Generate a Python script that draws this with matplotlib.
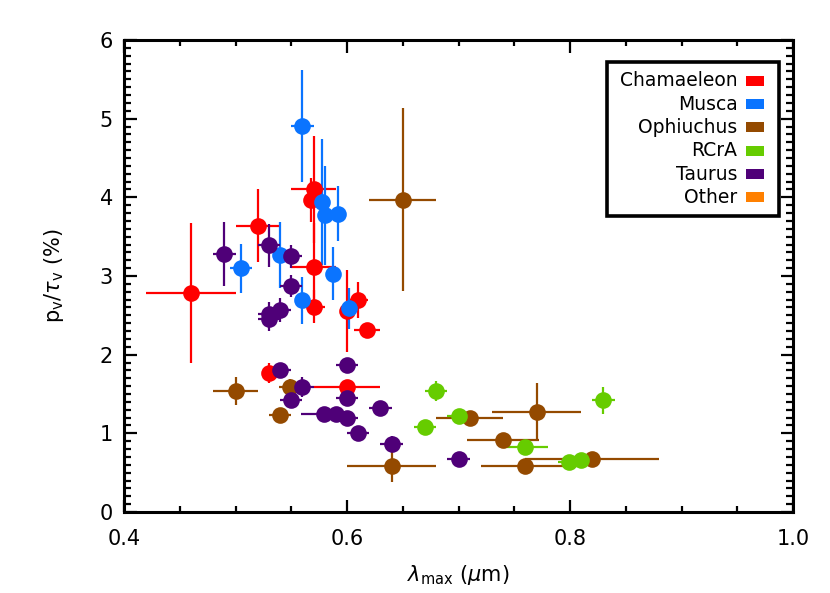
import matplotlib
matplotlib.use("Agg")
import matplotlib.pyplot as plt
from matplotlib.patches import Rectangle
from matplotlib.ticker import MultipleLocator

# ---------------- data ----------------
regions = ["Chamaeleon", "Musca", "Ophiuchus", "RCrA", "Taurus", "Other"]
colors = ["#FF0000", "#0A74FF", "#944A00", "#66CC00", "#4F0078", "#FF8000"]

cha_x    = [0.460, 0.520, 0.570, 0.568, 0.570, 0.570, 0.600, 0.610, 0.618, 0.530, 0.600]
cha_y    = [2.78, 3.64, 4.10, 3.97, 3.12, 2.61, 2.55, 2.69, 2.31, 1.77, 1.59]
cha_xerr = [0.040, 0.020, 0.020, 0.005, 0.020, 0.010, 0.005, 0.009, 0.012, 0.005, 0.030]
cha_yerr = [0.89, 0.46, 0.68, 0.28, 0.55, 0.21, 0.52, 0.23, 0.05, 0.13, 0.07]

mus_x    = [0.560, 0.578, 0.580, 0.592, 0.505, 0.540, 0.587, 0.560, 0.602]
mus_y    = [4.91, 3.94, 3.77, 3.79, 3.10, 3.27, 3.03, 2.69, 2.59]
mus_xerr = [0.010, 0.005, 0.005, 0.005, 0.010, 0.005, 0.005, 0.005, 0.005]
mus_yerr = [0.71, 0.80, 0.63, 0.35, 0.31, 0.42, 0.34, 0.30, 0.26]

oph_x    = [0.650, 0.500, 0.549, 0.540, 0.640, 0.710, 0.770, 0.740, 0.760, 0.820]
oph_y    = [3.97, 1.54, 1.59, 1.23, 0.58, 1.19, 1.27, 0.92, 0.58, 0.67]
oph_xerr = [0.030, 0.020, 0.010, 0.010, 0.040, 0.030, 0.040, 0.032, 0.040, 0.060]
oph_yerr = [1.16, 0.18, 0.10, 0.04, 0.20, 0.10, 0.37, 0.04, 0.04, 0.03]

rcra_x    = [0.680, 0.700, 0.670, 0.760, 0.799, 0.810, 0.830]
rcra_y    = [1.54, 1.22, 1.08, 0.83, 0.64, 0.66, 1.42]
rcra_xerr = [0.010, 0.010, 0.010, 0.020, 0.010, 0.010, 0.010]
rcra_yerr = [0.13, 0.08, 0.05, 0.05, 0.03, 0.03, 0.17]

tau_x    = [0.490, 0.530, 0.550, 0.550, 0.530, 0.530, 0.540, 0.540, 0.560, 0.550,
            0.600, 0.600, 0.579, 0.590, 0.600, 0.610, 0.630, 0.640, 0.700]
tau_y    = [3.28, 3.39, 3.25, 2.87, 2.52, 2.45, 2.57, 1.81, 1.59, 1.42,
            1.87, 1.45, 1.24, 1.25, 1.20, 1.01, 1.32, 0.86, 0.68]
tau_xerr = [0.010, 0.010, 0.010, 0.010, 0.010, 0.010, 0.010, 0.010, 0.010, 0.010,
            0.010, 0.010, 0.020, 0.010, 0.010, 0.010, 0.010, 0.010, 0.010]
tau_yerr = [0.41, 0.27, 0.15, 0.14, 0.15, 0.15, 0.15, 0.08, 0.13, 0.10,
            0.08, 0.08, 0.08, 0.08, 0.08, 0.05, 0.05, 0.10, 0.03]

series = [
    (cha_x, cha_y, cha_xerr, cha_yerr, colors[0]),
    (mus_x, mus_y, mus_xerr, mus_yerr, colors[1]),
    (oph_x, oph_y, oph_xerr, oph_yerr, colors[2]),
    (rcra_x, rcra_y, rcra_xerr, rcra_yerr, colors[3]),
    (tau_x, tau_y, tau_xerr, tau_yerr, colors[4]),
]

x_ticks = [0.4, 0.6, 0.8, 1.0]
x_tick_labels = ["0.4", "0.6", "0.8", "1.0"]
y_ticks = [0, 1, 2, 3, 4, 5, 6]

# ---------------- figure ----------------
plt.rcParams['font.family'] = ['DejaVu Sans']
plt.rcParams['mathtext.fontset'] = 'dejavusans'
fig = plt.figure(figsize=(8.30, 5.93), dpi=100)
ax = fig.add_axes([124/830, (593-512)/593, (793-124)/830, (512-40)/593])

for x, y, xe, ye, c in series:
    ax.errorbar(x, y, xerr=xe, yerr=ye, fmt='o', color=c, ecolor=c,
                markersize=12, markeredgewidth=0, elinewidth=1.6,
                capsize=3.4, capthick=1.6)

ax.set_xlim(0.4, 1.0)
ax.set_ylim(0, 6)
ax.set_xticks(x_ticks)
ax.set_xticklabels(x_tick_labels)
ax.set_yticks(y_ticks)
ax.xaxis.set_minor_locator(MultipleLocator(0.05))
ax.yaxis.set_minor_locator(MultipleLocator(0.1))
ax.tick_params(which='both', direction='in', top=True, right=True,
               width=1.6, labelsize=15, color='black')
ax.tick_params(which='major', length=9)
ax.tick_params(axis='x', which='minor', length=4)
ax.tick_params(axis='y', which='minor', length=5)
ax.tick_params(axis='x', which='major', pad=12)
ax.tick_params(axis='y', which='major', pad=8)
for s in ax.spines.values():
    s.set_linewidth(2.2)

ax.set_xlabel(r'$\lambda_{\rm max}$ ($\mu$m)', fontsize=15, labelpad=10)
ax.set_ylabel(r'p$_{\rm v}$/$\tau_{\rm v}$ (%)', fontsize=15, labelpad=24)

# ---------------- legend (custom, IDL style) ----------------
ax.add_patch(Rectangle((0.722, 0.627), 0.979 - 0.722, 0.953 - 0.627,
                       transform=ax.transAxes, fill=True, facecolor='white',
                       edgecolor='black', linewidth=2.6, zorder=5))
row_px = [80.7, 104.0, 127.3, 150.7, 174.0, 197.3]
for name, c, py in zip(regions, colors, row_px):
    yf = (512 - py) / 472
    ax.text(0.917, yf, name, transform=ax.transAxes, ha='right', va='center',
            fontsize=13.5, zorder=6)
    ax.add_patch(Rectangle((0.929, yf - 0.011), 0.028, 0.022,
                           transform=ax.transAxes, facecolor=c,
                           edgecolor='none', zorder=6))

fig.savefig("out.png", dpi=100)
